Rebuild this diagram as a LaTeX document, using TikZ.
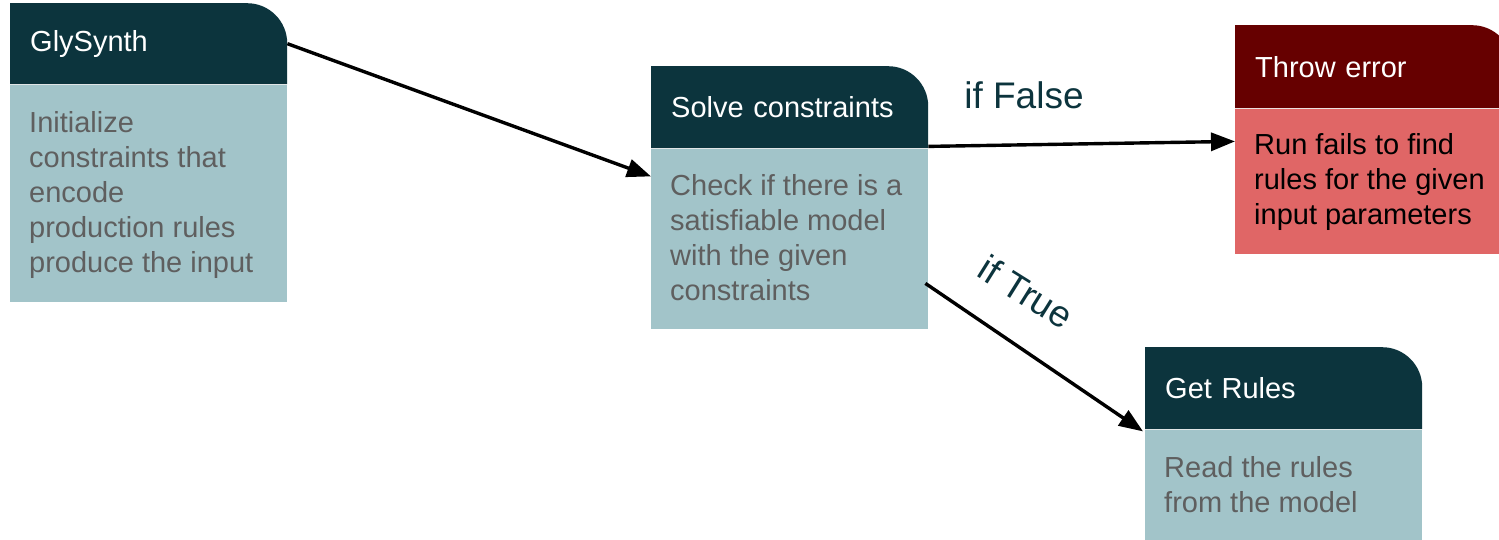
\documentclass[tikz,border=0pt]{standalone}
\usepackage{fontspec}
\setmainfont{Liberation Sans}
\usetikzlibrary{arrows.meta}

\definecolor{headteal}{HTML}{0C343D}
\definecolor{bodyteal}{HTML}{A2C4C9}
\definecolor{headred}{HTML}{660000}
\definecolor{bodyred}{HTML}{E06666}
\definecolor{bodygray}{HTML}{5F5F5F}

\tikzset{
  % header band with a rounded top-right corner
  cardhead/.style={anchor=north west, inner ysep=0pt, inner xsep=20pt,
    text width=237pt, align=left, minimum height=82pt, text=white,
    font=\fontsize{29}{32}\selectfont,
    path picture={
      \fill[#1] (path picture bounding box.south west)
        -- (path picture bounding box.north west)
        -- ([xshift=-40pt]path picture bounding box.north east)
        .. controls ([xshift=-18pt]path picture bounding box.north east)
           and ([yshift=-18pt]path picture bounding box.north east)
        .. ([yshift=-40pt]path picture bounding box.north east)
        -- (path picture bounding box.south east) -- cycle;
    }},
  cardbody/.style={anchor=north west, inner sep=0pt, minimum width=277pt, fill=#1},
  cardtext/.style={anchor=north west, inner sep=0pt, align=left,
    font=\fontsize{29}{35}\selectfont, text=#1},
  flow/.style={line width=3.4pt, -{Triangle[length=24pt,width=18pt]}},
  branch/.style={text=headteal, font=\fontsize{37}{40}\selectfont, inner sep=0pt},
}

\begin{document}
\begin{tikzpicture}[x=1pt,y=-1pt]
  \clip (0,0) rectangle (1499,540);
  \fill[white] (0,0) rectangle (1499,540);

  % GlySynth
  \node[cardhead=headteal, minimum height=81pt] (gh) at (10,3) {GlySynth};
  \node[cardbody=bodyteal, minimum height=217pt] (gb) at (gh.south west) {};
  \node[cardtext=bodygray] (gt) at ([xshift=19pt,yshift=-23.5pt]gb.north west)
    {\strut Initialize\\constraints that\\encode\\production rules\\produce the input};

  % Solve constraints
  \node[cardhead=headteal] (sh) at (651,66) {Solve constraints};
  \node[cardbody=bodyteal, minimum height=180pt] (sb) at (sh.south west) {};
  \node[cardtext=bodygray] (st) at ([xshift=19pt,yshift=-22pt]sb.north west)
    {\strut Check if there is a\\satisfiable model\\with the given\\constraints};

  % Throw error
  \node[cardhead=headred, minimum height=83pt] (th) at (1235,25) {Throw error};
  \node[cardbody=bodyred, minimum height=145pt] (tb) at (th.south west) {};
  \node[cardtext=black] (tt) at ([xshift=19pt,yshift=-21pt]tb.north west)
    {\strut Run fails to find\\rules for the given\\input parameters};

  % Get Rules
  \node[cardhead=headteal] (rh) at (1145,347) {Get Rules};
  \node[cardbody=bodyteal, minimum height=140pt] (rb) at (rh.south west) {};
  \node[cardtext=bodygray] (rt) at ([xshift=19pt,yshift=-23pt]rb.north west)
    {\strut Read the rules\\from the model};

  % connectors
  \draw[flow] (gh.east) -- ([yshift=-28pt]sb.north west);
  \draw[flow] ([yshift=2pt]sh.south east) -- ([yshift=-33pt]tb.north west);
  \draw[flow] ([xshift=-3pt,yshift=-135pt]sb.north east) -- ([xshift=-2pt,yshift=-2pt]rh.south west);

  % branch labels
  \node[branch] (lf) at (1024,95) {if False};
  \node[branch, rotate=-32] (lt) at (1026,292) {if True};
\end{tikzpicture}
\end{document}
